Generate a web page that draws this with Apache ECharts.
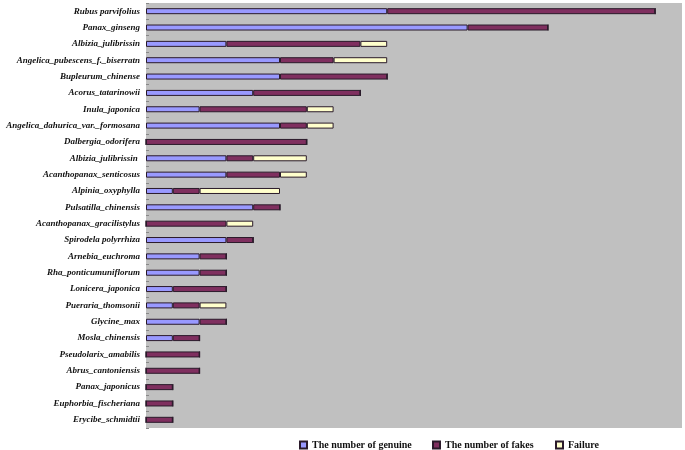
<!DOCTYPE html>
<html><head><meta charset="utf-8">
<script src="https://cdn.jsdelivr.net/npm/echarts@6/dist/echarts.min.js"></script>
<style>html,body{margin:0;padding:0;background:#fff}#c{width:685px;height:450px}</style>
</head><body><div id="c"></div>
<script>
const categories = ["Rubus parvifolius","Panax_ginseng","Albizia_julibrissin","Angelica_pubescens_f._biserratn","Bupleurum_chinense","Acorus_tatarinowii","Inula_japonica","Angelica_dahurica_var._formosana","Dalbergia_odorifera","Albizia_julibrissin ","Acanthopanax_senticosus","Alpinia_oxyphylla","Pulsatilla_chinensis","Acanthopanax_gracilistylus","Spirodela polyrrhiza","Arnebia_euchroma","Rha_ponticumuniflorum","Lonicera_japonica","Pueraria_thomsonii","Glycine_max","Mosla_chinensis","Pseudolarix_amabilis","Abrus_cantoniensis","Panax_japonicus","Euphorbia_fischeriana","Erycibe_schmidtii"];
const genuine = [9,12,3,5,5,4,2,5,0,3,3,1,4,0,3,2,2,1,1,2,1,0,0,0,0,0];
const fakes   = [10,3,5,2,4,4,4,1,6,1,2,1,1,3,1,1,1,2,1,1,1,2,2,1,1,1];
const failure = [0,0,1,2,0,0,1,1,0,2,1,3,0,1,0,0,0,0,1,0,0,0,0,0,0,0];
const seriesNames = ["The number of genuine","The number of fakes","Failure"];

const chart = echarts.init(document.getElementById('c'));
const mk = (name, data, color) => ({
  name, type: 'bar', stack: 't', data, barWidth: 6,
  itemStyle: { color, borderColor: '#2a1a2a', borderWidth: 1 },
  emphasis: { disabled: true }
});
const legendText = { fontFamily: 'Liberation Serif', fontWeight: 'bold', fontSize: 10, color: '#111' };
chart.setOption({
  animation: false,
  grid: { left: 146, right: 3, top: 3, bottom: 22, show: true, backgroundColor: '#C0C0C0', borderWidth: 0, containLabel: false, outerBoundsMode: 'none' },
  xAxis: { type: 'value', min: 0, max: 20, show: false },
  yAxis: {
    type: 'category', data: categories, inverse: true,
    axisLine: { show: false },
    axisTick: { show: true, inside: true, length: 3, lineStyle: { color: '#888' } },
    axisLabel: { fontFamily: 'Liberation Serif', fontStyle: 'italic', fontWeight: 'bold', fontSize: 9, color: '#111', margin: 6 }
  },
  legend: [
    { data: [seriesNames[0]], left: 294, top: 435, icon: 'rect', itemWidth: 7, itemHeight: 7, itemGap: 3, textStyle: legendText },
    { data: [seriesNames[1]], left: 427, top: 435, icon: 'rect', itemWidth: 7, itemHeight: 7, itemGap: 3, textStyle: legendText },
    { data: [seriesNames[2]], left: 550, top: 435, icon: 'rect', itemWidth: 7, itemHeight: 7, itemGap: 3, textStyle: legendText }
  ],
  series: [
    mk(seriesNames[0], genuine, '#9999FF'),
    mk(seriesNames[1], fakes, '#7F2F5F'),
    mk(seriesNames[2], failure, '#FFFFCC')
  ]
});
</script></body></html>
